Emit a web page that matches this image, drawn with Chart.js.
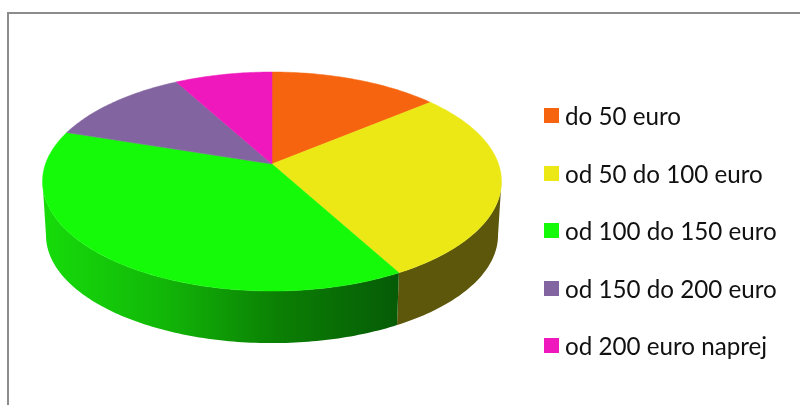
<!DOCTYPE html>
<html>
<head>
<meta charset="utf-8">
<script src="https://cdn.jsdelivr.net/npm/chart.js@4"></script>
<style>
html, body { margin: 0; padding: 0; background: #fff; }
#wrap { position: relative; width: 800px; height: 405px; overflow: hidden; }
#frame { position: absolute; left: 7px; top: 12px; width: 900px; height: 500px; border: 2px solid #8c8c8c; box-sizing: border-box; }
canvas { position: absolute; left: 0; top: 0; }
#legend { position: absolute; left: 544px; top: 87px; font: 24.2px Lato, sans-serif; color: #111; }
#legend div { position: relative; height: 57.5px; line-height: 57.5px; white-space: nowrap; padding-left: 21px; }
#legend i { position: absolute; left: 0; top: 21px; width: 15px; height: 15px; }
</style>
</head>
<body>
<div id="wrap">
  <div id="frame"></div>
  <canvas id="pie" width="800" height="405"></canvas>
  <div id="legend"></div>
</div>
<script>
// data
const categories = ['do 50 euro', 'od 50 do 100 euro', 'od 100 do 150 euro', 'od 150 do 200 euro', 'od 200 euro naprej'];
const shares = [14, 28, 38, 12, 8];
const sliceColors = ['#f7640f', '#ebe816', '#14fa08', '#8264a0', '#ee18bc'];

// side wall colours, gradient from left to right of the wall
const wallStops = [
  ['#7a3208', '#7a3208'],
  ['#625c0a', '#5c570a'],
  ['#16dc0a', '#12b808', '#0b7f04', '#065c06'],
  ['#40324f', '#40324f'],
  ['#77105e', '#77105e']
];

// tilted disc: apex is above the middle of the ellipse because of the perspective
const apexX = 272, apexY = 164;
const radX = 226.5, radY = 106.7, persp = -0.16;
const depth = 54, bottomScale = 0.985;
// angle where the rim is widest on screen, the wall ends there
const edgeAngle = Math.asin(-persp);

function project(angle, level) {
  const u = Math.cos(angle), v = Math.sin(angle);
  const d = 1 + persp * v;
  const s = level ? bottomScale : 1;
  return { x: apexX + s * radX * u / d, y: apexY + (level ? depth : 0) + s * radY * v / d };
}

function rim(ctx, from, to, level) {
  const steps = Math.max(4, Math.ceil(Math.abs(to - from) * 60));
  for (let i = 0; i <= steps; i++) {
    const p = project(from + (to - from) * i / steps, level);
    ctx.lineTo(p.x, p.y);
  }
}

// takes the angles Chart.js worked out for the pie and draws them as a 3D disc
const disc3d = {
  id: 'disc3d',
  beforeDatasetDraw(chart) {
    const ctx = chart.ctx;
    const arcs = chart.getDatasetMeta(0).data;
    ctx.save();
    // walls first, only the front part of the rim can be seen
    arcs.forEach((arc, i) => {
      const from = Math.max(arc.startAngle, edgeAngle);
      const to = Math.min(arc.endAngle, Math.PI - edgeAngle);
      if (to <= from) return;
      const g = ctx.createLinearGradient(42, 0, 397, 0);
      wallStops[i].forEach((c, n) => g.addColorStop(n / (wallStops[i].length - 1), c));
      ctx.beginPath();
      rim(ctx, from, to, 0);
      rim(ctx, to, from, 1);
      ctx.closePath();
      ctx.fillStyle = g;
      ctx.fill();
    });
    arcs.forEach((arc, i) => {
      ctx.beginPath();
      ctx.moveTo(apexX, apexY);
      rim(ctx, arc.startAngle, arc.endAngle, 0);
      ctx.closePath();
      ctx.fillStyle = sliceColors[i];
      ctx.strokeStyle = sliceColors[i];
      ctx.lineWidth = 0.5;
      ctx.fill();
      ctx.stroke();
    });
    ctx.restore();
    return false;
  }
};

new Chart(document.getElementById('pie'), {
  type: 'pie',
  data: {
    labels: categories,
    datasets: [{ data: shares, backgroundColor: sliceColors, borderWidth: 0 }]
  },
  options: {
    responsive: false,
    animation: false,
    plugins: { legend: { display: false }, tooltip: { enabled: false } }
  },
  plugins: [disc3d]
});

// legend as html next to the canvas
const legendBox = document.getElementById('legend');
categories.forEach((name, i) => {
  const row = document.createElement('div');
  const box = document.createElement('i');
  box.style.background = sliceColors[i];
  row.appendChild(box);
  row.appendChild(document.createTextNode(name));
  legendBox.appendChild(row);
});
</script>
</body>
</html>
